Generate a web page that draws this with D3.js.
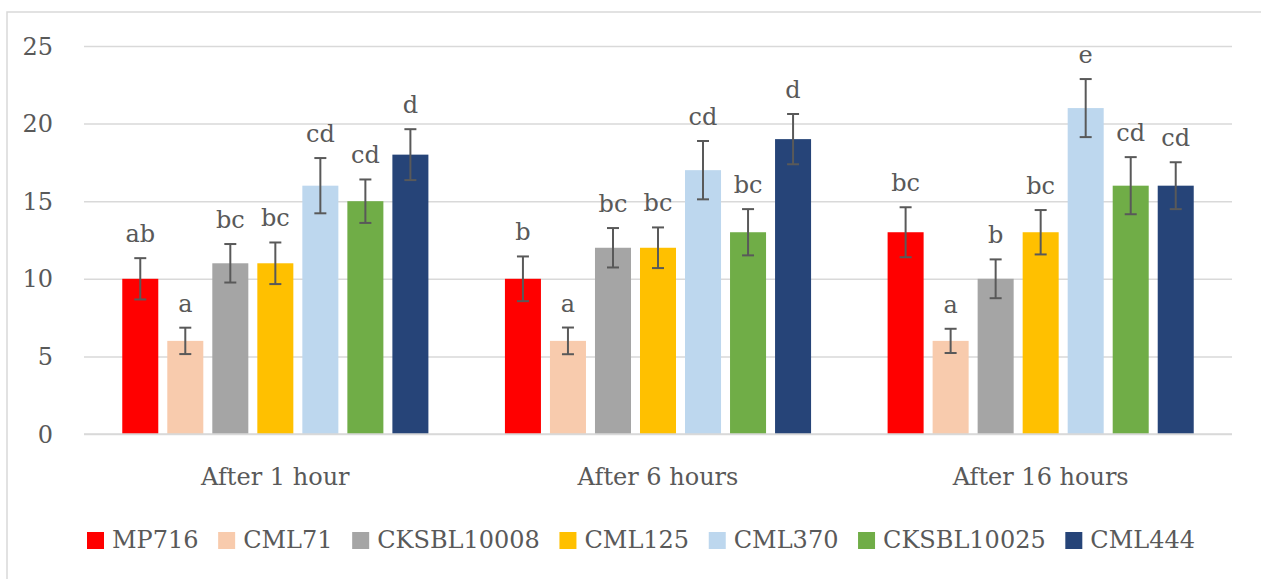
<!DOCTYPE html>
<html><head><meta charset="utf-8">
<script src="https://cdn.jsdelivr.net/npm/d3@7"></script>
<style>body{margin:0;background:#fff}svg{display:block}text{font-family:"Palatino Linotype","Book Antiqua",Palatino,"DejaVu Serif",serif;fill:#595959}</style>
</head><body><svg id="c" width="1261" height="579"></svg>
<script>
const categories = ["After 1 hour", "After 6 hours", "After 16 hours"];
const seriesNames = ["MP716", "CML71", "CKSBL10008", "CML125", "CML370", "CKSBL10025", "CML444"];
const colors = ["#FF0000", "#F8CBAD", "#A5A5A5", "#FFC000", "#BDD7EE", "#70AD47", "#264478"];
// values[series][category]
const values = [
  [10, 10, 13],
  [6, 6, 6],
  [11, 12, 10],
  [11, 12, 13],
  [16, 17, 21],
  [15, 13, 16],
  [18, 19, 16]
];
const errors = [
  [1.33, 1.44, 1.61],
  [0.85, 0.86, 0.78],
  [1.24, 1.27, 1.25],
  [1.34, 1.31, 1.43],
  [1.78, 1.88, 1.87],
  [1.40, 1.49, 1.84],
  [1.64, 1.62, 1.51]
];
const letters = [
  ["ab", "b", "bc"],
  ["a", "a", "a"],
  ["bc", "bc", "b"],
  ["bc", "bc", "bc"],
  ["cd", "cd", "e"],
  ["cd", "bc", "cd"],
  ["d", "d", "cd"]
];
const yTicks = [0, 5, 10, 15, 20, 25];

const svg = d3.select("#c");
const fs = 24;
// outer border
svg.append("rect").attr("x", 7).attr("y", 12).attr("width", 1300).attr("height", 700)
  .attr("fill", "none").attr("stroke", "#D9D9D9").attr("stroke-width", 1.5);

const x0 = d3.scaleBand().domain(categories).range([84, 1232]).paddingInner(0).paddingOuter(0);
const x1 = d3.scaleBand().domain(seriesNames).range([0, x0.bandwidth()]).paddingInner(0.2).paddingOuter(0.85);
const y = d3.scaleLinear().domain([0, 25]).range([434, 46]);

// grid
const yAxis = d3.axisLeft(y).tickValues(yTicks).tickSize(-(1232 - 84)).tickPadding(31);
const ga = svg.append("g").attr("transform", "translate(84,0)").call(yAxis);
ga.select(".domain").remove();
ga.selectAll(".tick line").attr("stroke", "#D9D9D9").attr("stroke-width", 1.5);
ga.selectAll(".tick text").attr("font-size", fs).attr("fill", "#595959").attr("dy", "0.34em")
  .style("font-family", null);

// bars
const groups = svg.append("g");
seriesNames.forEach((s, si) => {
  categories.forEach((c, ci) => {
    const v = values[si][ci], e = errors[si][ci];
    const bx = x0(c) + x1(s), bw = x1.bandwidth();
    groups.append("rect").attr("x", bx).attr("y", y(v)).attr("width", bw).attr("height", y(0) - y(v))
      .attr("fill", colors[si]);
    const cx = bx + bw / 2;
    const g = groups.append("g").attr("stroke", "#595959").attr("stroke-width", 2);
    g.append("line").attr("x1", cx).attr("x2", cx).attr("y1", y(v + e)).attr("y2", y(v - e));
    g.append("line").attr("x1", cx - 6).attr("x2", cx + 6).attr("y1", y(v + e)).attr("y2", y(v + e));
    g.append("line").attr("x1", cx - 6).attr("x2", cx + 6).attr("y1", y(v - e)).attr("y2", y(v - e));
    groups.append("text").attr("x", cx).attr("y", y(v + e) - 16).attr("text-anchor", "middle")
      .attr("font-size", fs).text(letters[si][ci]);
  });
});

// x axis baseline
svg.append("line").attr("x1", 84).attr("x2", 1232).attr("y1", y(0)).attr("y2", y(0))
  .attr("stroke", "#D9D9D9").attr("stroke-width", 1.5);
categories.forEach(c => {
  svg.append("text").attr("x", x0(c) + x0.bandwidth() / 2).attr("y", 485).attr("text-anchor", "middle")
    .attr("font-size", fs).text(c);
});

// legend
const leg = svg.append("g");
const legItems = seriesNames.map((s, i) => {
  const g = leg.append("g");
  g.append("rect").attr("x", 0).attr("y", 532).attr("width", 17).attr("height", 17).attr("fill", colors[i]);
  const t = g.append("text").attr("x", 25).attr("y", 548).attr("font-size", fs).text(s);
  return {g, w: 25 + t.node().getComputedTextLength()};
});
const legStart = 87, legEnd = 1195;
const sumW = d3.sum(legItems, d => d.w);
const gap = Math.max(8, (legEnd - legStart - sumW) / (legItems.length - 1));
let lx = 0;
legItems.forEach(d => { d.g.attr("transform", `translate(${lx},0)`); lx += d.w + gap; });
const total = lx - gap;
leg.attr("transform", `translate(${641 - total / 2},0)`);
</script></body></html>
